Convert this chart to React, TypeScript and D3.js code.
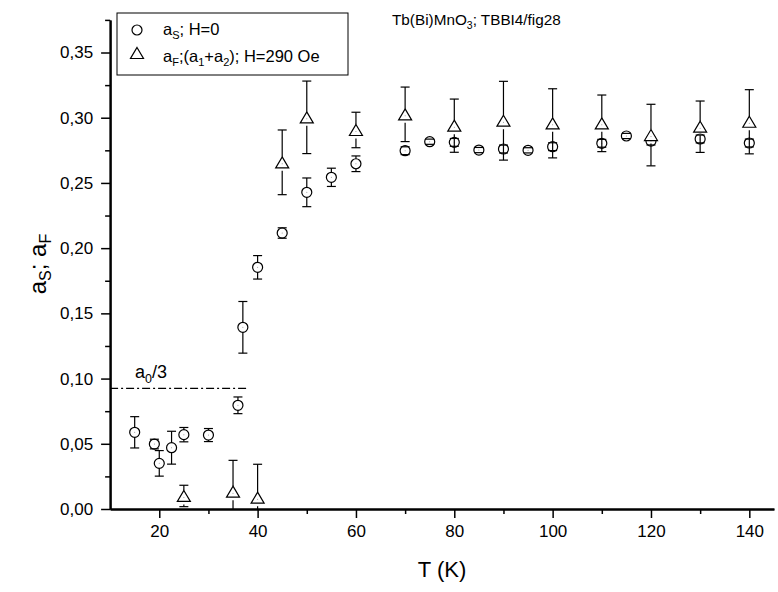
import React, { useRef, useEffect } from 'react';
import * as d3 from 'd3';

// a_S, H=0 (circles)
const tS = [15, 19, 20, 22.5, 25, 30, 36, 37, 40, 45, 50, 55, 60, 70, 75, 80, 85, 90, 95, 100, 110, 115, 120, 130, 140];
const aS = [0.0588, 0.0498, 0.035, 0.047, 0.057, 0.0567, 0.0795, 0.1393, 0.1853, 0.2116, 0.2428, 0.2543, 0.2647, 0.2747, 0.2816, 0.2811, 0.2752, 0.276, 0.275, 0.2778, 0.2804, 0.286, 0.2821, 0.2837, 0.2806];
const eS = [0.012, 0.0037, 0.0098, 0.0126, 0.0055, 0.005, 0.0064, 0.0198, 0.009, 0.004, 0.011, 0.007, 0.006, 0.003, 0.002, 0.003, 0.002, 0.003, 0.002, 0.003, 0.003, 0.002, 0.003, 0.003, 0.003];

// a_F = a1 + a2, H=290 Oe (triangles)
const tF = [25, 35, 40, 45, 50, 60, 70, 80, 90, 100, 110, 120, 130, 140];
const aF = [0.01, 0.0133, 0.0087, 0.2658, 0.3003, 0.2906, 0.3026, 0.2939, 0.2977, 0.2957, 0.2957, 0.2867, 0.2931, 0.2969];
const eF = [0.0082, 0.024, 0.0256, 0.0248, 0.0278, 0.0136, 0.0209, 0.0204, 0.0302, 0.0265, 0.0217, 0.0236, 0.0197, 0.0246];

const xMajor = [20, 40, 60, 80, 100, 120, 140];
const xMinor = [30, 50, 70, 90, 110, 130];
const yMajor = [0, 0.05, 0.1, 0.15, 0.2, 0.25, 0.3, 0.35];
const yMinor = [0.025, 0.075, 0.125, 0.175, 0.225, 0.275, 0.325, 0.375];

// a0/3 reference level
const a0Third = 0.0925;
const a0Range = [10, 37.8];

const FONT = 'Liberation Sans, Arial, sans-serif';

const x = d3.scaleLinear().domain([10, 145]).range([110.1, 773.9]);
const y = d3.scaleLinear().domain([0, 0.375]).range([509, 19.9]);

const commaFmt = (d: number) => d3.format('.2f')(d).replace('.', ',');

const trianglePath = (cx: number, cy: number) =>
  `M${cx},${cy - 5.5}L${cx + 6.5},${cy + 5.5}L${cx - 6.5},${cy + 5.5}Z`;

const App = () => {
  const xRef = useRef<SVGGElement>(null);
  const yRef = useRef<SVGGElement>(null);

  useEffect(() => {
    const gx = d3.select(xRef.current);
    gx.selectAll('*').remove();
    gx.append('g').call(d3.axisBottom(x).tickValues(xMinor).tickSize(5).tickSizeOuter(0).tickFormat(() => ''));
    gx.append('g').call(d3.axisBottom(x).tickValues(xMajor).tickSize(9).tickPadding(7).tickSizeOuter(0).tickFormat(d3.format('d')));

    const gy = d3.select(yRef.current);
    gy.selectAll('*').remove();
    gy.append('g').call(d3.axisLeft(y).tickValues(yMinor).tickSize(5).tickSizeOuter(0).tickFormat(() => ''));
    gy.append('g').call(d3.axisLeft(y).tickValues(yMajor).tickSize(9).tickPadding(8).tickSizeOuter(0).tickFormat(commaFmt as any));

    [gx, gy].forEach(g => {
      g.selectAll('path.domain').attr('stroke', '#000').attr('stroke-width', 2);
      g.selectAll('.tick line').attr('stroke', '#000').attr('stroke-width', 1.5);
      g.selectAll('.tick text').attr('fill', '#000').attr('font-size', 17).attr('font-family', FONT);
    });
  }, []);

  const r = 5;
  const cap = 4.5;

  return (
    <svg width={778} height={592} style={{ position: 'absolute', left: 0, top: 0, background: '#fff' }}
      fontFamily={FONT}>
      <defs>
        <clipPath id="plot">
          <rect x={x(10)} y={0} width={x(145) - x(10) + 5} height={y(0) - 0} />
        </clipPath>
      </defs>

      {/* a0/3 line */}
      <line x1={x(a0Range[0])} x2={x(a0Range[1])} y1={y(a0Third)} y2={y(a0Third)}
        stroke="#000" strokeWidth={1.4} strokeDasharray="8,3,2,3" />
      <text x={135} y={378} fontSize={18}>a<tspan fontSize={12.5} dy={5}>0</tspan><tspan dy={-5}>/3</tspan></text>

      {/* circles a_S */}
      <g clipPath="url(#plot)" stroke="#000" strokeWidth={1.2}>
        {tS.map((t, i) => {
          const cx = x(t), cy = y(aS[i]);
          const top = y(aS[i] + eS[i]), bot = y(aS[i] - eS[i]);
          return (
            <g key={'s' + i}>
              {cy - top > r && <line x1={cx} x2={cx} y1={top} y2={cy - r} />}
              {bot - cy > r && <line x1={cx} x2={cx} y1={cy + r} y2={bot} />}
              <line x1={cx - cap} x2={cx + cap} y1={top} y2={top} />
              <line x1={cx - cap} x2={cx + cap} y1={bot} y2={bot} />
              <circle cx={cx} cy={cy} r={r} fill="none" />
              <circle cx={cx} cy={cy} r={0.5} fill="#888" stroke="none" />
            </g>
          );
        })}
      </g>

      {/* triangles a_F */}
      <g clipPath="url(#plot)" stroke="#000" strokeWidth={1.2}>
        {tF.map((t, i) => {
          const cx = x(t), cy = y(aF[i]);
          const top = y(aF[i] + eF[i]), bot = y(aF[i] - eF[i]);
          return (
            <g key={'f' + i}>
              {cy - top > 5.5 && <line x1={cx} x2={cx} y1={top} y2={cy - 5.5} />}
              {bot - cy > 8.5 && <line x1={cx} x2={cx} y1={cy + 8.5} y2={bot} />}
              <line x1={cx - cap} x2={cx + cap} y1={top} y2={top} />
              <line x1={cx - cap} x2={cx + cap} y1={bot} y2={bot} />
              <path d={trianglePath(cx, cy)} fill="#fff" />
              <circle cx={cx} cy={cy + 1.5} r={0.5} fill="#888" stroke="none" />
            </g>
          );
        })}
      </g>

      <g ref={xRef} transform={`translate(0,${y(0)})`} />
      <g ref={yRef} transform={`translate(${x(10)},0)`} />

      {/* legend */}
      <rect x={117} y={13} width={231} height={62} fill="#fff" stroke="#000" strokeWidth={1} />
      <circle cx={137} cy={30} r={r} fill="none" stroke="#000" strokeWidth={1.2} />
      <path d={trianglePath(137, 53)} fill="none" stroke="#000" strokeWidth={1.2} />
      <text x={163} y={35} fontSize={16.5}>
        a<tspan fontSize={11} dy={4}>S</tspan><tspan dy={-4}>; H=0</tspan>
      </text>
      <text x={163} y={61.5} fontSize={16.5}>
        a<tspan fontSize={11} dy={4}>F</tspan><tspan dy={-4}>;(a</tspan>
        <tspan fontSize={11} dy={4}>1</tspan><tspan dy={-4}>+a</tspan>
        <tspan fontSize={11} dy={4}>2</tspan><tspan dy={-4}>); H=290 Oe</tspan>
      </text>

      {/* title */}
      <text x={392} y={25} fontSize={15.3}>
        Tb(Bi)MnO<tspan fontSize={10.5} dy={4}>3</tspan><tspan dy={-4}>; TBBI4/fig28</tspan>
      </text>

      {/* axis titles */}
      <text x={442} y={577} fontSize={22} textAnchor="middle">T (K)</text>
      <text transform="translate(46,264) rotate(-90)" fontSize={24} textAnchor="middle">
        a<tspan fontSize={16} dy={5}>S</tspan><tspan dy={-5}>; a</tspan><tspan fontSize={16} dy={5}>F</tspan>
      </text>
    </svg>
  );
};

export default App;
